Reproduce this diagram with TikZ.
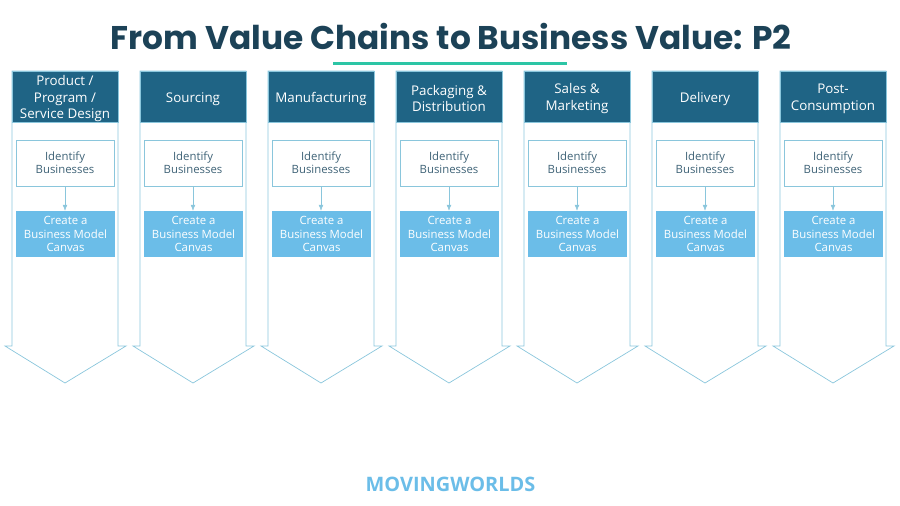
\documentclass[tikz,border=0pt]{standalone}
\usepackage{fontspec}
\usetikzlibrary{arrows.meta, positioning}
\setmainfont{Open Sans}
\newfontfamily\titlefont{Poppins}
\newcommand{\headstrut}{\rule{0pt}{12.3pt}}
\definecolor{headblue}{HTML}{1F6485}
\definecolor{lightblue}{HTML}{6BBDE8}
\definecolor{lineblue}{HTML}{8AC6DC}
\definecolor{textblue}{HTML}{3F6377}
\definecolor{titleblue}{HTML}{1C4257}
\definecolor{rulegreen}{HTML}{2CC5A5}
\tikzset{
	head/.style={draw=lineblue, fill=headblue, text=white, minimum width=3.18cm, minimum height=1.53cm, align=center, inner sep=0pt, font=\fontsize{11.4}{13.9}\selectfont},
	identify/.style={draw=lineblue, fill=white, text=textblue, minimum width=2.94cm, minimum height=1.38cm, align=center, inner sep=0pt, font=\fontsize{9.7}{11.2}\selectfont},
	canvas/.style={fill=lightblue, text=white, minimum width=2.98cm, minimum height=1.38cm, align=center, inner sep=0pt, font=\fontsize{9.7}{11.2}\selectfont},
	outline/.style={draw=lineblue, line width=0.6pt},
	link/.style={draw=lineblue, -{Latex[length=5pt, width=4pt]}}
}

\begin{document}
\begin{tikzpicture}[x=0.03cm, y=-0.03cm]
	\useasboundingbox (0, 0) rectangle (900, 505);

	\node[text=titleblue, font=\titlefont\fontsize{28}{32}\selectfont\bfseries] (title) at (451, 36) {From Value Chains to Business Value: P2};
	\node[fill=rulegreen, minimum width=7.02cm, minimum height=1.8pt, inner sep=0pt] (rule) at (450, 63.5) {};

	%contours
	\draw[outline] (12, 71) -- (118, 71) -- (118, 346) -- (126, 346) -- (65, 383) -- (5, 346) -- (12, 346) -- cycle;
	\draw[outline] (140, 71) -- (246, 71) -- (246, 346) -- (254, 346) -- (193, 383) -- (133, 346) -- (140, 346) -- cycle;
	\draw[outline] (268, 71) -- (374, 71) -- (374, 346) -- (382, 346) -- (321, 383) -- (261, 346) -- (268, 346) -- cycle;
	\draw[outline] (396, 71) -- (502, 71) -- (502, 346) -- (510, 346) -- (449, 383) -- (389, 346) -- (396, 346) -- cycle;
	\draw[outline] (524, 71) -- (630, 71) -- (630, 346) -- (638, 346) -- (577, 383) -- (517, 346) -- (524, 346) -- cycle;
	\draw[outline] (652, 71) -- (758, 71) -- (758, 346) -- (766, 346) -- (705, 383) -- (645, 346) -- (652, 346) -- cycle;
	\draw[outline] (780, 71) -- (886, 71) -- (886, 346) -- (894, 346) -- (833, 383) -- (773, 346) -- (780, 346) -- cycle;

	%titres
	\node[head] (product)	at (65, 96.5)	{\headstrut Product /\\Program /\\Service Design};
	\node[head] (sourcing)	at (193, 96.5)	{\headstrut Sourcing};
	\node[head] (manuf)		at (321, 96.5)	{\headstrut Manufacturing};
	\node[head] (packaging)	at (449, 96.5)	{\headstrut Packaging \&\\Distribution};
	\node[head] (sales)		at (577, 96.5)	{\headstrut Sales \&\\Marketing};
	\node[head] (delivery)	at (705, 96.5)	{\headstrut Delivery};
	\node[head] (post)		at (833, 96.5)	{\headstrut Post-\\Consumption};

	\node[identify] (id1)	at (65, 163)	{Identify\\Businesses};
	\node[identify] (id2)	at (193, 163)	{Identify\\Businesses};
	\node[identify] (id3)	at (321, 163)	{Identify\\Businesses};
	\node[identify] (id4)	at (449, 163)	{Identify\\Businesses};
	\node[identify] (id5)	at (577, 163)	{Identify\\Businesses};
	\node[identify] (id6)	at (705, 163)	{Identify\\Businesses};
	\node[identify] (id7)	at (833, 163)	{Identify\\Businesses};

	\node[canvas] (bmc1)	at (65.5, 234)	{Create a\\Business Model\\Canvas};
	\node[canvas] (bmc2)	at (193.5, 234)	{Create a\\Business Model\\Canvas};
	\node[canvas] (bmc3)	at (321.5, 234)	{Create a\\Business Model\\Canvas};
	\node[canvas] (bmc4)	at (449.5, 234)	{Create a\\Business Model\\Canvas};
	\node[canvas] (bmc5)	at (577.5, 234)	{Create a\\Business Model\\Canvas};
	\node[canvas] (bmc6)	at (705.5, 234)	{Create a\\Business Model\\Canvas};
	\node[canvas] (bmc7)	at (833.5, 234)	{Create a\\Business Model\\Canvas};

	\draw[link] (id1) to (id1 |- bmc1.north);
	\draw[link] (id2) to (id2 |- bmc2.north);
	\draw[link] (id3) to (id3 |- bmc3.north);
	\draw[link] (id4) to (id4 |- bmc4.north);
	\draw[link] (id5) to (id5 |- bmc5.north);
	\draw[link] (id6) to (id6 |- bmc6.north);
	\draw[link] (id7) to (id7 |- bmc7.north);

	\node[text=lightblue, font=\fontsize{17}{20}\selectfont\bfseries] (logo) at (450.5, 484) {MOVINGWORLDS};
\end{tikzpicture}
\end{document}
